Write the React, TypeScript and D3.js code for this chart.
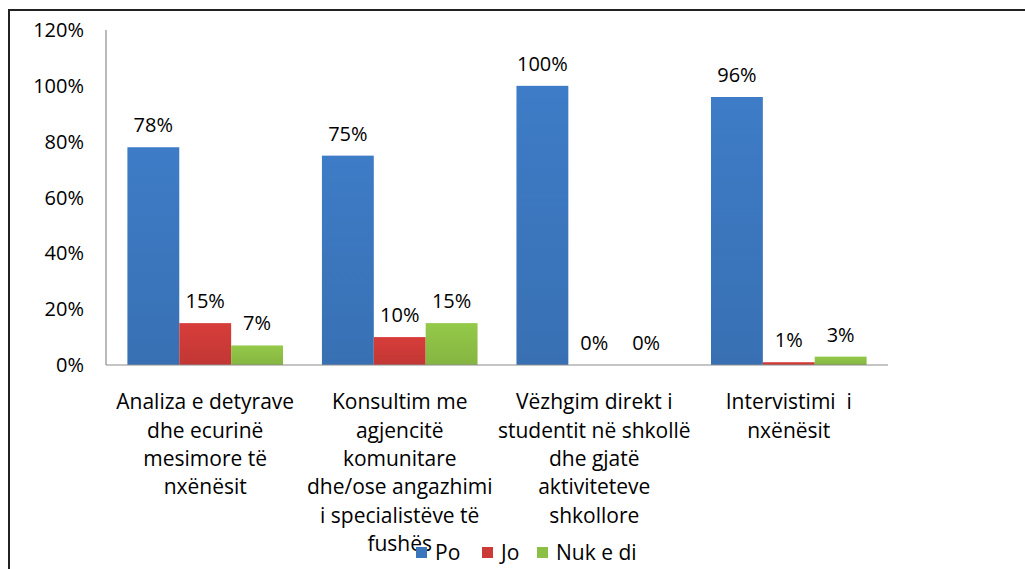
import React from "react";
import * as d3 from "d3";

const categories = [
  "Analiza e detyrave dhe ecurinë mesimore të nxënësit",
  "Konsultim me agjencitë komunitare dhe/ose angazhimi i specialistëve të fushës",
  "Vëzhgim direkt i studentit në shkollë dhe gjatë aktiviteteve shkollore",
  "Intervistimi  i nxënësit",
];
const categoryLines = [
  ["Analiza e detyrave", "dhe ecurinë", "mesimore të", "nxënësit"],
  ["Konsultim me", "agjencitë", "komunitare", "dhe/ose angazhimi", "i specialistëve të", "fushës"],
  ["Vëzhgim direkt i", "studentit në shkollë", "dhe gjatë", "aktiviteteve", "shkollore"],
  ["Intervistimi  i", "nxënësit"],
];
const seriesNames = ["Po", "Jo", "Nuk e di"];
const poValues = [78, 75, 100, 96];
const joValues = [15, 10, 0, 1];
const nukValues = [7, 15, 0, 3];
const yTicks = [0, 20, 40, 60, 80, 100, 120];
const colors = ["#3b76bd", "#cc3a37", "#8cbf45"];

const W = 1025;
const H = 569;
const FONT = "'Open Sans', 'DejaVu Sans', sans-serif";

export default function App() {
  const series = [poValues, joValues, nukValues];
  const x0 = d3.scaleBand<string>().domain(categories).range([106, 888]).paddingInner(0.2).paddingOuter(0.11);
  const x1 = d3.scaleBand<string>().domain(seriesNames).range([0, x0.bandwidth()]);
  const y = d3.scaleLinear().domain([0, 120]).range([365, 30]);

  const legendX = [416, 482, 537];

  return (
    <svg width={W} height={H} style={{ position: "absolute", left: 0, top: 0, background: "#fff" }} fontFamily={FONT}>
      <defs>
        {colors.map((c, i) => (
          <linearGradient key={i} id={`g${i}`} x1="0" y1="0" x2="0" y2="1">
            <stop offset="0" stopColor={d3.color(c)!.brighter(0.15).formatHex()} />
            <stop offset="1" stopColor={d3.color(c)!.darker(0.15).formatHex()} />
          </linearGradient>
        ))}
      </defs>
      {/* frame */}
      <line x1={8} y1={10} x2={W} y2={10} stroke="#222" strokeWidth={2} />
      <line x1={9} y1={9} x2={9} y2={H} stroke="#222" strokeWidth={2} />

      {/* y axis ticks labels */}
      {yTicks.map((t) => (
        <text key={t} x={84} y={y(t)} dy="0.35em" textAnchor="end" fontSize={20} fill="#000">
          {t}%
        </text>
      ))}
      <line x1={106} y1={y(120)} x2={106} y2={y(0)} stroke="#8c8c8c" strokeWidth={1.2} />

      {/* bars */}
      {categories.map((c, ci) => (
        <g key={c} transform={`translate(${x0(c)},0)`}>
          {series.map((vals, si) => {
            const v = vals[ci];
            const bx = x1(seriesNames[si])!;
            return (
              <g key={si}>
                {v > 0 && (
                  <rect x={bx} y={y(v)} width={x1.bandwidth()} height={y(0) - y(v)} fill={`url(#g${si})`} />
                )}
                <text x={bx + x1.bandwidth() / 2} y={y(v) - 22} dy="0.35em" textAnchor="middle" fontSize={20} fill="#000">
                  {v}%
                </text>
              </g>
            );
          })}
        </g>
      ))}
      <line x1={106} y1={y(0)} x2={888} y2={y(0)} stroke="#8c8c8c" strokeWidth={1.2} />

      {/* category labels */}
      {categories.map((c, ci) => (
        <text key={c} textAnchor="middle" fontSize={21} fill="#000" style={{ whiteSpace: "pre" }}>
          {categoryLines[ci].map((l, li) => (
            <tspan key={li} x={x0(c)! + x0.bandwidth() / 2} y={402 + li * 28.3} dy="0.35em">
              {l}
            </tspan>
          ))}
        </text>
      ))}

      {/* legend */}
      {seriesNames.map((s, i) => (
        <g key={s}>
          <rect x={legendX[i]} y={547} width={11} height={11} fill={colors[i]} />
          <text x={legendX[i] + 19} y={553} dy="0.35em" fontSize={21} fill="#000">
            {s}
          </text>
        </g>
      ))}
    </svg>
  );
}
